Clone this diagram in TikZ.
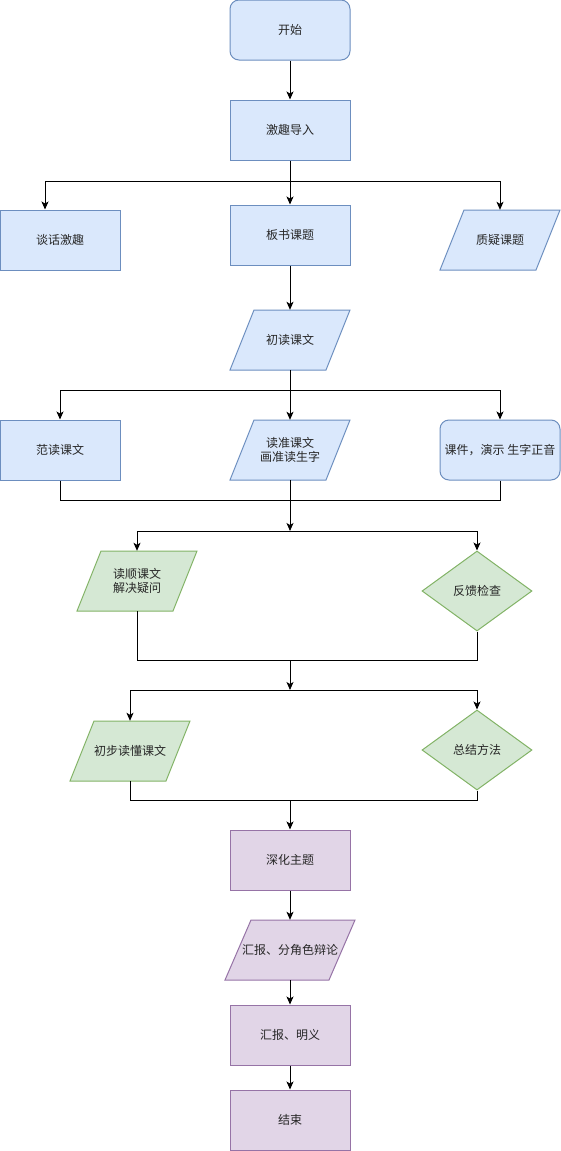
\documentclass[tikz,border=0pt]{standalone}
\usepackage{fontspec}
\setmainfont{Noto Sans CJK SC}
\usetikzlibrary{arrows.meta,calc,shapes.geometric}
\definecolor{bfill}{HTML}{DAE8FC}
\definecolor{bline}{HTML}{6C8EBF}
\definecolor{gfill}{HTML}{D5E8D4}
\definecolor{gline}{HTML}{82B366}
\definecolor{pfill}{HTML}{E1D5E7}
\definecolor{pline}{HTML}{9673A6}
\tikzset{
  txt/.style={inner sep=0pt, minimum width=120pt, minimum height=60pt, align=center,
    font=\fontsize{12}{14.5}\selectfont, text=black!85},
  bsty/.style={fill=bfill, draw=bline, line width=1pt},
  gsty/.style={fill=gfill, draw=gline, line width=1pt},
  psty/.style={fill=pfill, draw=pline, line width=1pt},
  boxB/.style={txt, bsty},
  rboxB/.style={txt, bsty, rounded corners=9pt},
  boxP/.style={txt, psty},
  diaG/.style={diamond, gsty, inner sep=0pt, minimum width=110pt, minimum height=80pt,
    font=\fontsize{12}{14.5}\selectfont, text=black!85},
  arr/.style={-{Stealth[length=8pt,width=7pt,inset=2pt]}, line width=1pt},
  ln/.style={line width=1pt}
}
% #1 style, #2 name, #3 cx, #4 cy, #5 width, #6 text
\newcommand\parashape[6]{%
  \draw[#1] (#3-#5/2,#4+30) -- (#3+#5/2-0.2*#5,#4+30) -- (#3+#5/2,#4-30)
     -- (#3-#5/2+0.2*#5,#4-30) -- cycle;
  \node[txt, minimum width=#5pt] (#2) at (#3,#4) {#6};
}
\begin{document}
\begin{tikzpicture}[x=1pt,y=-1pt]
\useasboundingbox (0,0) rectangle (561,1151);
% nodes
\node[rboxB] (ks) at (290,30) {开始};
\node[boxB] (jq) at (290,130) {激趣导入};
\node[boxB] (th) at (60,240) {谈话激趣};
\node[boxB] (bs) at (290,235) {板书课题};
\parashape{bsty}{zy}{500}{240}{120}{质疑课题}
\parashape{bsty}{cd}{290}{340}{120}{初读课文}
\node[boxB] (fd) at (60,450) {范读课文};
\parashape{bsty}{dz}{290}{450}{120}{读准课文\\画准读生字}
\node[rboxB] (kj) at (500,450) {课件，演示 生字正音};
\parashape{gsty}{ds}{137}{581}{120}{读顺课文\\解决疑问}
\node[diaG] (fk) at (477,591) {反馈检查};
\parashape{gsty}{cb}{130}{751}{120}{初步读懂课文}
\node[diaG] (zj) at (477,750) {总结方法};
\node[boxP] (sh) at (290,860) {深化主题};
\parashape{psty}{fj}{290}{950}{130}{汇报、分角色辩论}
\node[boxP] (mb) at (290,1035) {汇报、明义};
\node[boxP] (js) at (290,1120) {结束};
% junction points
\coordinate (b1) at (290,181);
\coordinate (b2) at (290,390);
\coordinate (m1) at (290,500);
\coordinate (j1) at (290,531);
\coordinate (m2) at (290,660);
\coordinate (j2) at (290,690);
\coordinate (m3) at (290,800);
% connectors
\draw[arr] (ks.south) -- (jq.north);
\draw[arr] (jq.south) -- (bs.north);
\draw[arr] (b1) -| ([xshift=-15pt]th.north);
\draw[arr] (b1) -| (zy.north);
\draw[arr] (bs.south) -- (cd.north);
\draw[arr] (cd.south) -- (dz.north);
\draw[arr] (b2) -| (fd.north);
\draw[arr] (b2) -| (kj.north);
\draw[ln] (fd.south) |- (m1);
\draw[ln] (kj.south) |- (m1);
\draw[arr] (dz.south) -- (j1);
\draw[arr] (j1) -| (ds.north);
\draw[arr] (j1) -| (fk.north);
\draw[ln] (ds.south) |- (m2);
\draw[ln] (fk.south) |- (m2);
\draw[arr] (m2) -- (j2);
\draw[arr] (j2) -| (cb.north);
\draw[arr] (j2) -| (zj.north);
\draw[ln] (cb.south) |- (m3);
\draw[ln] (zj.south) |- (m3);
\draw[arr] (m3) -- (sh.north);
\draw[arr] (sh.south) -- (fj.north);
\draw[arr] (fj.south) -- (mb.north);
\draw[arr] (mb.south) -- (js.north);
\end{tikzpicture}
\end{document}
